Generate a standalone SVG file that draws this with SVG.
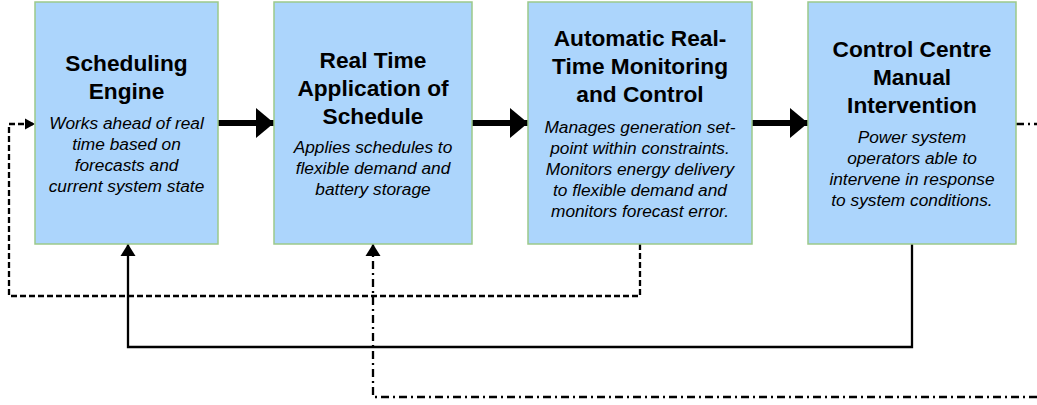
<svg xmlns="http://www.w3.org/2000/svg" width="1037" height="405" viewBox="0 0 1037 405">
<style>
.box{fill:#acd5fc;stroke:#9cc98a;stroke-width:1.5}
.t{font-family:"Liberation Sans",Arial,sans-serif;font-weight:bold;font-size:22.7px;fill:#000;text-anchor:middle}
.b{font-family:"Liberation Sans",Arial,sans-serif;font-style:italic;font-size:17.3px;fill:#000;text-anchor:middle}
.thick{stroke:#000;stroke-width:6;fill:none}
.ln{stroke:#000;stroke-width:2.3;fill:none}
.dash{stroke-dasharray:6 3}
.dd{stroke-dasharray:8 4 2 4}
marker{overflow:visible}
</style>
<defs>
<marker id="big" markerUnits="userSpaceOnUse" markerWidth="18" markerHeight="30" refX="18" refY="15" orient="auto"><path d="M0,0 L18,15 L0,30 Z" fill="#000"/></marker>
<marker id="sm" markerUnits="userSpaceOnUse" markerWidth="12" markerHeight="16" refX="12" refY="8" orient="auto"><path d="M0,0.5 L12,8 L0,15.5 Z" fill="#000"/></marker>
<marker id="sm2" markerUnits="userSpaceOnUse" markerWidth="10" markerHeight="12" refX="10" refY="6" orient="auto"><path d="M0,0.5 L10,6 L0,11.5 Z" fill="#000"/></marker>
</defs>
<g id="connectors">
<line class="thick" x1="218" y1="123" x2="274" y2="123" marker-end="url(#big)"/>
<line class="thick" x1="472" y1="123" x2="528" y2="123" marker-end="url(#big)"/>
<line class="thick" x1="752" y1="123" x2="808" y2="123" marker-end="url(#big)"/>
<polyline class="ln dash" points="640,244 640,296 9,296 9,124 35,124" marker-end="url(#sm2)"/>
<polyline class="ln" points="912,244 912,347 128,347 128,244" marker-end="url(#sm)"/>
<polyline class="ln dd" points="1037,397 373,397 373,244" marker-end="url(#sm)"/>
<line class="ln dd" x1="1016" y1="124" x2="1037" y2="124"/>
</g>
<g id="node1">
<rect class="box" x="35" y="2" width="183" height="242"/>
<text class="t" x="126.5" y="71">Scheduling</text>
<text class="t" x="126.5" y="99">Engine</text>
<text class="b" x="126.5" y="129">Works ahead of real</text>
<text class="b" x="126.5" y="150">time based on</text>
<text class="b" x="126.5" y="171">forecasts and</text>
<text class="b" x="126.5" y="192">current system state</text>
</g>
<g id="node2">
<rect class="box" x="274" y="2" width="198" height="242"/>
<text class="t" x="373" y="68">Real Time</text>
<text class="t" x="373" y="96">Application of</text>
<text class="t" x="373" y="124">Schedule</text>
<text class="b" x="373" y="153">Applies schedules to</text>
<text class="b" x="373" y="174">flexible demand and</text>
<text class="b" x="373" y="195">battery storage</text>
</g>
<g id="node3">
<rect class="box" x="528" y="2" width="224" height="242"/>
<text class="t" x="640" y="46">Automatic Real-</text>
<text class="t" x="640" y="74">Time Monitoring</text>
<text class="t" x="640" y="102">and Control</text>
<text class="b" x="640" y="133">Manages generation set-</text>
<text class="b" x="640" y="154">point within constraints.</text>
<text class="b" x="640" y="175">Monitors energy delivery</text>
<text class="b" x="640" y="196">to flexible demand and</text>
<text class="b" x="640" y="217">monitors forecast error.</text>
</g>
<g id="node4">
<rect class="box" x="808" y="2" width="208" height="242"/>
<text class="t" x="912" y="57">Control Centre</text>
<text class="t" x="912" y="85">Manual</text>
<text class="t" x="912" y="113">Intervention</text>
<text class="b" x="912" y="143">Power system</text>
<text class="b" x="912" y="164">operators able to</text>
<text class="b" x="912" y="185">intervene in response</text>
<text class="b" x="912" y="206">to system conditions.</text>
</g>
</svg>
